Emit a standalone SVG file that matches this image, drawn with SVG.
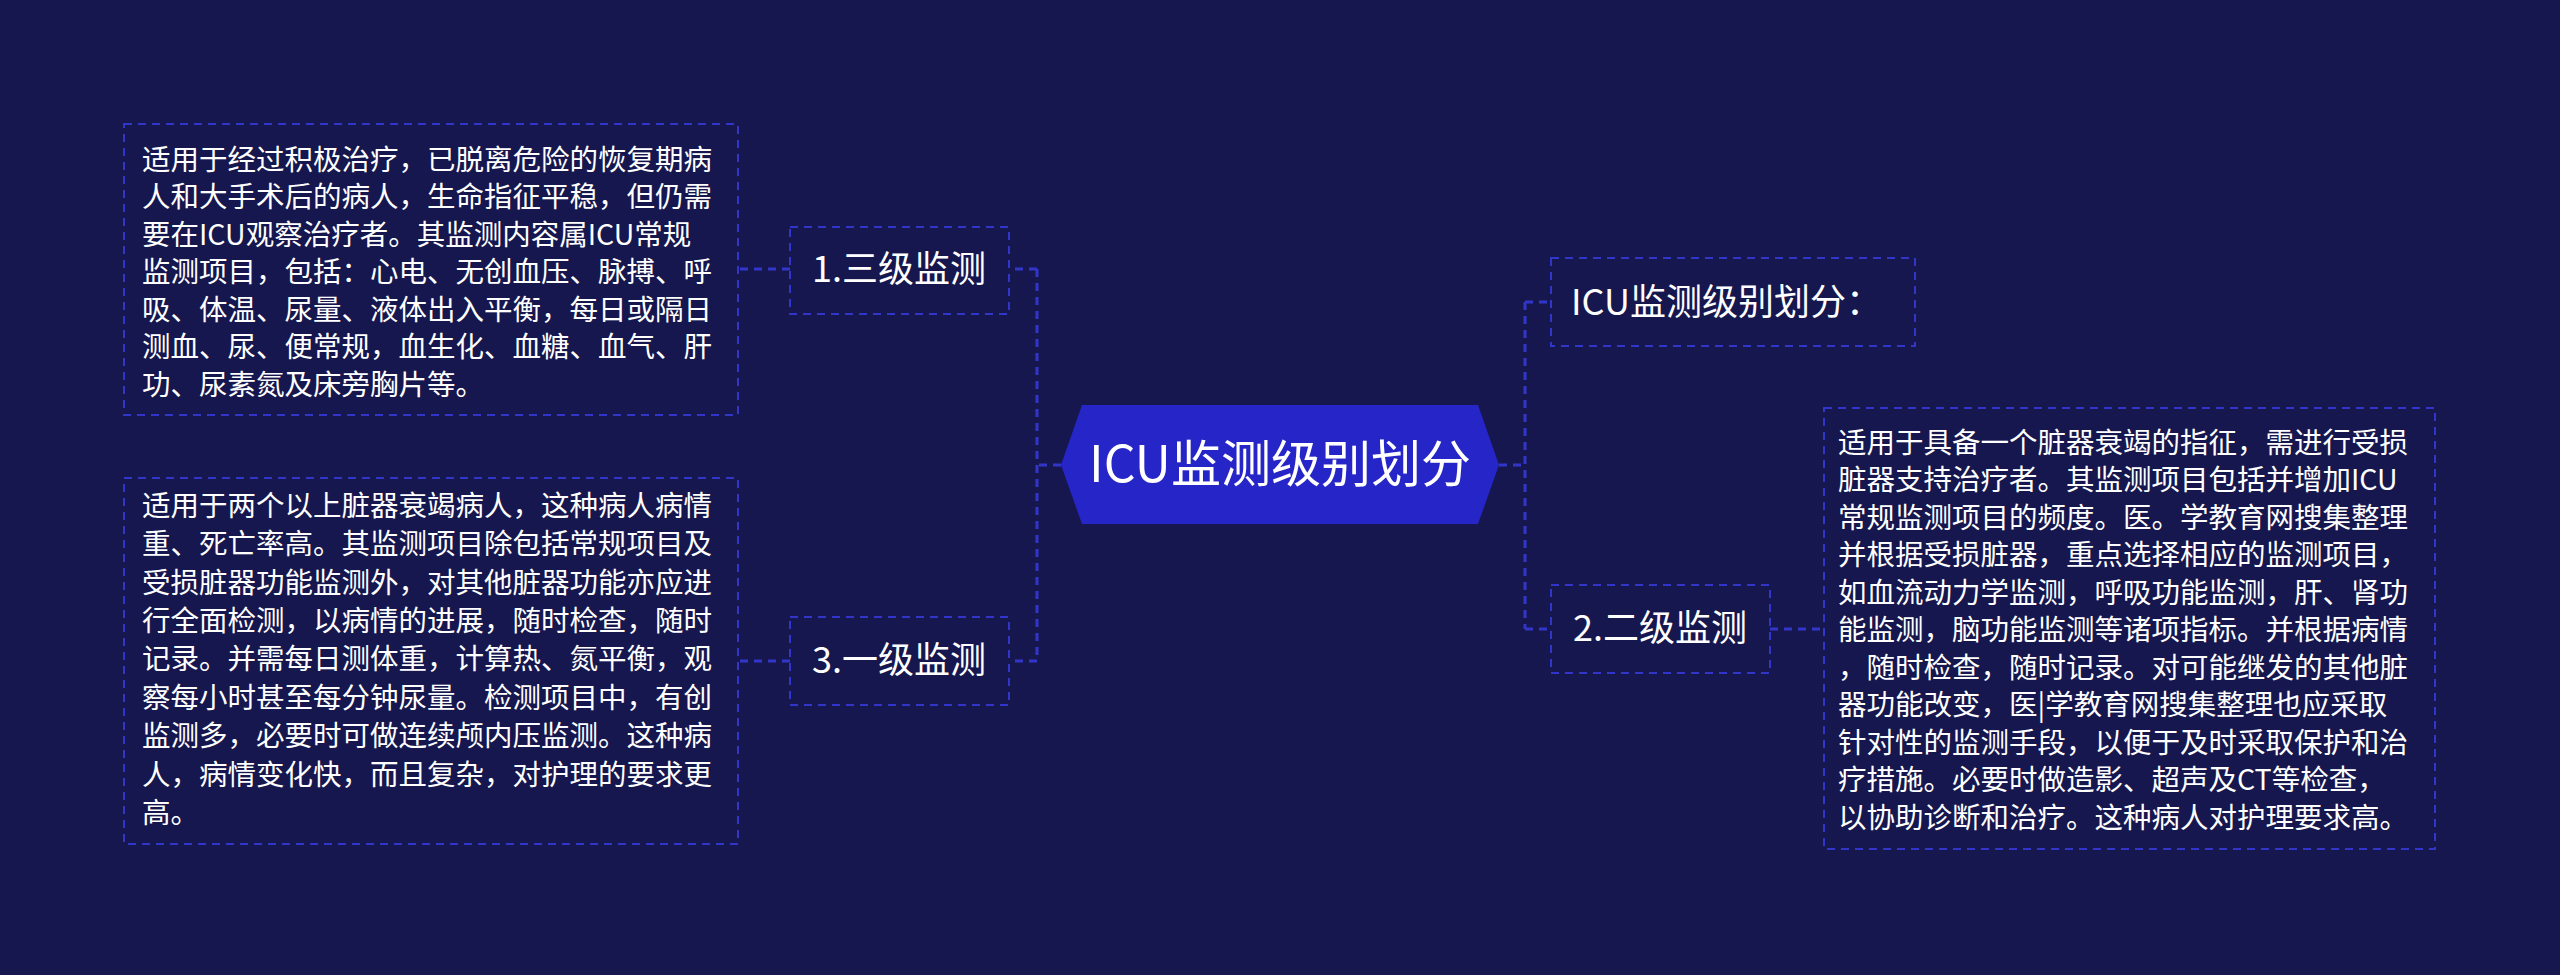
<svg xmlns="http://www.w3.org/2000/svg" width="2560" height="975" viewBox="0 0 2560 975">
<style>
.bg{fill:#16174e}
.box{fill:none;stroke:#3236c8;stroke-width:2;stroke-dasharray:8 6}
.con{fill:none;stroke:#3236c8;stroke-width:3;stroke-dasharray:8 6}
text{font-family:"Noto Sans CJK SC","Noto Sans",sans-serif;fill:#ffffff}
.t{font-size:28.5px}
.n{font-size:36px}
.c{font-size:50px}
</style>
<rect class="bg" x="0" y="0" width="2560" height="975"/>
<g id="connectors">
<path class="con" d="M1061 465 H1037 M1037 269 V661 M1037 269 H1009 M1037 661 H1009 M790 269 H738 M790 661 H738"/>
<path class="con" d="M1499 465 H1525 M1525 302 V629 M1525 302 H1551 M1525 629 H1551 M1770 629 H1824"/>
</g>
<g id="center">
<polygon points="1061,465 1082,405 1478,405 1499,465 1478,524 1082,524" fill="#2626c8"/>
<text class="c" x="1280" y="482" text-anchor="middle">ICU监测级别划分</text>
</g>
<g id="n1">
<rect class="box" x="790" y="227" width="219" height="87"/>
<text class="n" x="899" y="282" text-anchor="middle">1.三级监测</text>
</g>
<g id="n1t">
<rect class="box" x="124" y="124" width="614" height="291"/>
<text class="t" x="142" y="170">适用于经过积极治疗，已脱离危险的恢复期病</text>
<text class="t" x="142" y="207">人和大手术后的病人，生命指征平稳，但仍需</text>
<text class="t" x="142" y="245">要在ICU观察治疗者。其监测内容属ICU常规</text>
<text class="t" x="142" y="282">监测项目，包括：心电、无创血压、脉搏、呼</text>
<text class="t" x="142" y="320">吸、体温、尿量、液体出入平衡，每日或隔日</text>
<text class="t" x="142" y="357">测血、尿、便常规，血生化、血糖、血气、肝</text>
<text class="t" x="142" y="395">功、尿素氮及床旁胸片等。</text>
</g>
<g id="n3">
<rect class="box" x="790" y="617" width="219" height="88"/>
<text class="n" x="899" y="673" text-anchor="middle">3.一级监测</text>
</g>
<g id="n3t">
<rect class="box" x="124" y="478" width="614" height="366"/>
<text class="t" x="142" y="516">适用于两个以上脏器衰竭病人，这种病人病情</text>
<text class="t" x="142" y="554">重、死亡率高。其监测项目除包括常规项目及</text>
<text class="t" x="142" y="593">受损脏器功能监测外，对其他脏器功能亦应进</text>
<text class="t" x="142" y="631">行全面检测，以病情的进展，随时检查，随时</text>
<text class="t" x="142" y="669">记录。并需每日测体重，计算热、氮平衡，观</text>
<text class="t" x="142" y="708">察每小时甚至每分钟尿量。检测项目中，有创</text>
<text class="t" x="142" y="746">监测多，必要时可做连续颅内压监测。这种病</text>
<text class="t" x="142" y="785">人，病情变化快，而且复杂，对护理的要求更</text>
<text class="t" x="142" y="823">高。</text>
</g>
<g id="n0">
<rect class="box" x="1551" y="258" width="364" height="88"/>
<text class="n" x="1571" y="315">ICU监测级别划分：</text>
</g>
<g id="n2">
<rect class="box" x="1551" y="585" width="219" height="88"/>
<text class="n" x="1660" y="641" text-anchor="middle">2.二级监测</text>
</g>
<g id="n2t">
<rect class="box" x="1824" y="408" width="611" height="441"/>
<text class="t" x="1838" y="453">适用于具备一个脏器衰竭的指征，需进行受损</text>
<text class="t" x="1838" y="490">脏器支持治疗者。其监测项目包括并增加ICU</text>
<text class="t" x="1838" y="528">常规监测项目的频度。医。学教育网搜集整理</text>
<text class="t" x="1838" y="565">并根据受损脏器，重点选择相应的监测项目，</text>
<text class="t" x="1838" y="603">如血流动力学监测，呼吸功能监测，肝、肾功</text>
<text class="t" x="1838" y="640">能监测，脑功能监测等诸项指标。并根据病情</text>
<text class="t" x="1838" y="678">，随时检查，随时记录。对可能继发的其他脏</text>
<text class="t" x="1838" y="715">器功能改变，医|学教育网搜集整理也应采取</text>
<text class="t" x="1838" y="753">针对性的监测手段，以便于及时采取保护和治</text>
<text class="t" x="1838" y="790">疗措施。必要时做造影、超声及CT等检查，</text>
<text class="t" x="1838" y="828">以协助诊断和治疗。这种病人对护理要求高。</text>
</g>
</svg>
